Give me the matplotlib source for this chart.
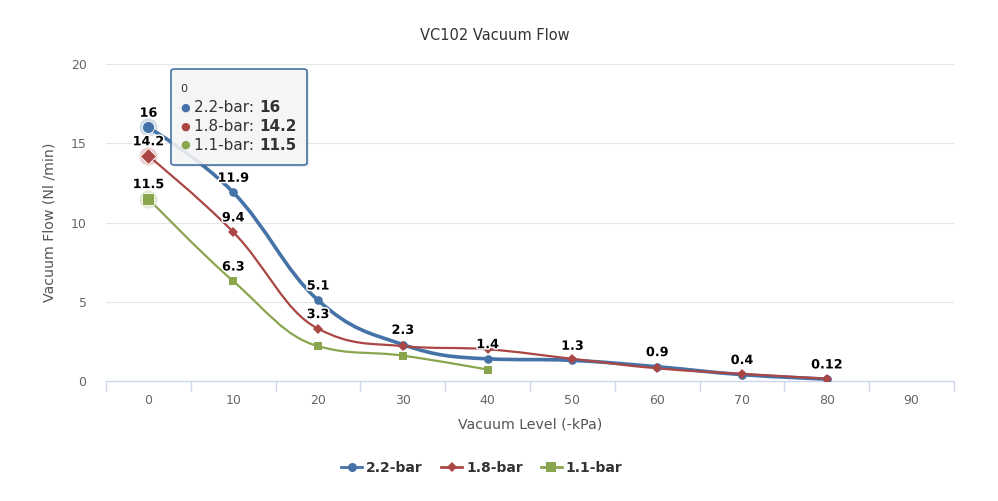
import matplotlib
matplotlib.use("Agg")
import matplotlib.pyplot as plt
from matplotlib.path import Path
from matplotlib.patches import PathPatch, FancyBboxPatch
from matplotlib.lines import Line2D
import matplotlib.patheffects as pe

plt.rcParams['font.family'] = ['DejaVu Sans']

categories = ["0", "10", "20", "30", "40", "50", "60", "70", "80", "90"]
series_names = ["2.2-bar", "1.8-bar", "1.1-bar"]
flow_22 = [16, 11.9, 5.1, 2.3, 1.4, 1.3, 0.9, 0.4, 0.12]
flow_18 = [14.2, 9.4, 3.3, 2.2, 2.0, 1.4, 0.8, 0.45, 0.15]
flow_11 = [11.5, 6.3, 2.2, 1.6, 0.72]
labels_22 = [0, 1, 2, 3, 4, 5, 6, 7, 8]
labels_18 = [0, 1, 2]
labels_11 = [0, 1]
colors = ["#4572A7", "#AA4643", "#89A54E"]
markers = ["o", "D", "s"]

W, H = 998, 501
fig = plt.figure(figsize=(W / 100, H / 100), dpi=100)
ax = fig.add_axes([106 / W, 1 - 381 / H, (954 - 106) / W, (381 - 64) / H])
ax.set_xlim(-0.5, len(categories) - 0.5)
ax.set_ylim(0, 20)


def hc_spline(xs, ys, s=1.5):
    n = len(xs)
    left = [None] * n
    right = [None] * n
    for i in range(1, n - 1):
        x, y = xs[i], ys[i]
        px, py = xs[i - 1], ys[i - 1]
        nx, ny = xs[i + 1], ys[i + 1]
        lx = (s * x + px) / (s + 1); ly = (s * y + py) / (s + 1)
        rx = (s * x + nx) / (s + 1); ry = (s * y + ny) / (s + 1)
        if rx != lx:
            corr = ((ry - ly) * (rx - x)) / (rx - lx) + y - ry
            ly += corr; ry += corr
        if ly > py and ly > y:
            ly = max(py, y); ry = 2 * y - ly
        elif ly < py and ly < y:
            ly = min(py, y); ry = 2 * y - ly
        if ry > ny and ry > y:
            ry = max(ny, y); ly = 2 * y - ry
        elif ry < ny and ry < y:
            ry = min(ny, y); ly = 2 * y - ry
        left[i] = (lx, ly); right[i] = (rx, ry)
    verts = [(xs[0], ys[0])]
    codes = [Path.MOVETO]
    for i in range(n - 1):
        c1 = right[i] if right[i] else (xs[i], ys[i])
        c2 = left[i + 1] if left[i + 1] else (xs[i + 1], ys[i + 1])
        verts += [c1, c2, (xs[i + 1], ys[i + 1])]
        codes += [Path.CURVE4] * 3
    return Path(verts, codes)


# grid
for v in [5, 10, 15, 20]:
    ax.axhline(v, color="#e6e6e6", lw=0.75, zorder=0)

all_data = [flow_22, flow_18, flow_11]
all_labels = [labels_22, labels_18, labels_11]
lws = [2.6, 1.6, 1.6]
msz = [6.2, 5.2, 6.0]
for k, (data, col) in enumerate(zip(all_data, colors)):
    xs = list(range(len(data)))
    path = hc_spline(xs, data)
    ax.add_patch(PathPatch(path, fill=False, edgecolor=col, lw=lws[k],
                           zorder=3 + k * 0.1, capstyle='round', joinstyle='round'))
    ax.plot(xs, data, linestyle="none", marker=markers[k], color=col,
            markersize=msz[k], zorder=4 + k * 0.1, markeredgewidth=0)
    # hovered first point halo (circle)
    ax.plot([xs[0]], [data[0]], linestyle="none", marker="o",
            markersize=13, color=col, alpha=0.25, zorder=3.5, markeredgewidth=0)
    ax.plot([xs[0]], [data[0]], linestyle="none", marker=markers[k],
            markersize=msz[k] + 2.5, color=col, zorder=4.5,
            markeredgecolor="white", markeredgewidth=0.6)
    for i in all_labels[k]:
        txt = ("%g" % data[i])
        ax.annotate(txt, (xs[i], data[i]), xytext=(0, 5.5), textcoords="offset points",
                    ha="center", va="bottom", fontsize=9.2, fontweight="bold",
                    color="black", zorder=6,
                    path_effects=[pe.withStroke(linewidth=2.2, foreground="white")])

# axes styling
for sp in ["left", "right", "top"]:
    ax.spines[sp].set_visible(False)
ax.spines["bottom"].set_color("#ccd6eb")
ax.spines["bottom"].set_linewidth(1)
ax.set_xticks(range(len(categories)))
ax.set_xticklabels(categories)
ax.set_xticks([i - 0.5 for i in range(len(categories) + 1)], minor=True)
ax.tick_params(axis="x", which="major", length=0, pad=9, labelsize=9, labelcolor="#666666")
ax.tick_params(axis="x", which="minor", length=7.5, width=1, color="#ccd6eb", direction="out")
ax.set_yticks([0, 5, 10, 15, 20])
ax.tick_params(axis="y", length=0, pad=14, labelsize=9, labelcolor="#666666")
ax.set_xlabel("Vacuum Level (-kPa)", fontsize=10.2, color="#555555", labelpad=8)
ax.set_ylabel("Vacuum Flow (Nl /min)", fontsize=10.2, color="#555555", labelpad=10)

fig.text(495 / W, 1 - 35 / H, "VC102 Vacuum Flow", ha="center", va="center",
         fontsize=10.5, color="#333333")

# legend
handles = [Line2D([0], [0], color=c, lw=2, marker=m, markersize=6.5 if m != "D" else 5.5,
                  markeredgewidth=0) for c, m in zip(colors, markers)]
fig.legend(handles, series_names, loc="center", bbox_to_anchor=(482 / W, 1 - 468 / H),
           ncol=3, frameon=False, prop={"weight": "bold", "size": 10},
           labelcolor="#333333", handlelength=1.5, handletextpad=0.3, columnspacing=1.3)

# tooltip
x0, y0, x1, y1 = 171, 69, 307, 165
shadow = FancyBboxPatch(((x0 + 2) / W, 1 - (y1 + 2) / H), (x1 - x0) / W, (y1 - y0) / H,
                        boxstyle="round,pad=0,rounding_size=0.004", transform=fig.transFigure,
                        facecolor="#000000", alpha=0.08, edgecolor="none", zorder=9)
fig.add_artist(shadow)
box = FancyBboxPatch((x0 / W, 1 - y1 / H), (x1 - x0) / W, (y1 - y0) / H,
                     boxstyle="round,pad=0,rounding_size=0.004", transform=fig.transFigure,
                     facecolor=(0.97, 0.97, 0.97, 0.88), edgecolor="#4572A7", lw=1.2, zorder=10)
fig.add_artist(box)
fig.text(180 / W, 1 - 89 / H, categories[0], fontsize=8, color="#333333", va="center", zorder=11)
for k in range(3):
    yy = 1 - (108 + k * 18.5) / H
    fig.text(180 / W, yy, "\u25CF", fontsize=8, color=colors[k], va="center", zorder=11)
    t = fig.text(194 / W, yy, series_names[k] + ": ", fontsize=11, color="#333333",
                 va="center", zorder=11)
    fig.canvas.draw()
    bb = t.get_window_extent()
    fig.text(bb.x1 / W, yy, "%g" % all_data[k][0], fontsize=11, fontweight="bold",
             color="#333333", va="center", zorder=11)

fig.savefig("out.png", dpi=100)
